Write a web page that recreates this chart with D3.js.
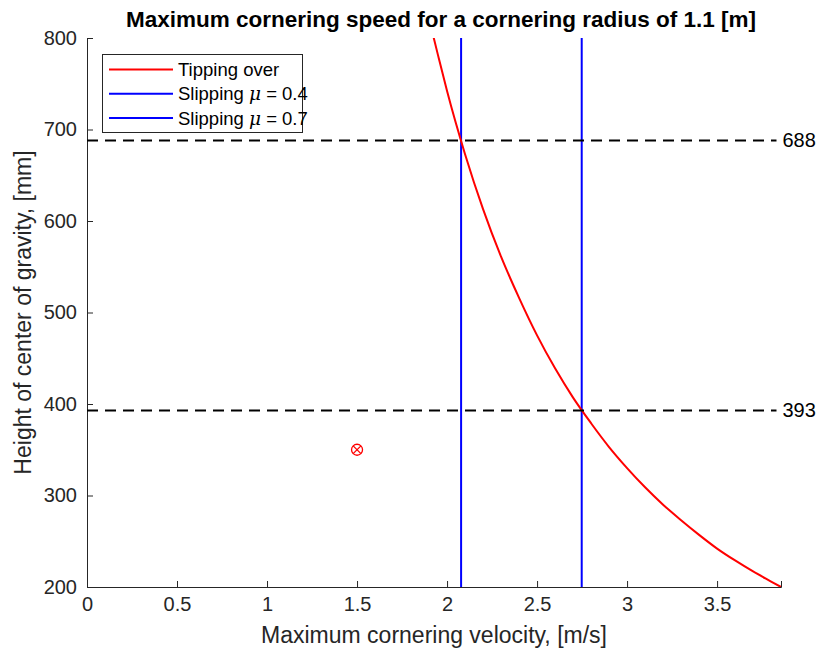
<!DOCTYPE html>
<html>
<head>
<meta charset="utf-8">
<script src="https://cdn.jsdelivr.net/npm/d3@7"></script>
<style>
  body { margin: 0; background: #fff; }
  text { font-family: "Liberation Sans", Arial, sans-serif; }
</style>
</head>
<body>
<script>
// points: velocity [m/s] -> height [mm]
var tipV = [1.92, 1.95, 2.0, 2.1, 2.2, 2.3, 2.4, 2.5, 2.6, 2.7, 2.8, 2.9, 3.0, 3.1, 3.2, 3.3, 3.4, 3.5, 3.6, 3.7, 3.8, 3.855];
var tipH = [805, 781, 742, 673, 613, 561, 516, 475, 439, 407, 379, 353, 330, 309, 290, 273, 257, 242, 229, 217, 206, 200];
var slipMu = [0.4, 0.7];
var slipV = [2.078, 2.748];
var limitH = [688, 393];
var pointV = [1.5];
var pointH = [350];
var xTicks = [0, 0.5, 1, 1.5, 2, 2.5, 3, 3.5];
var yTicks = [200, 300, 400, 500, 600, 700, 800];

var W = 819, H = 651;
var m = {left: 87, right: 38, top: 38, bottom: 64};

var svg = d3.select('body').append('svg')
  .attr('width', W).attr('height', H);

var x = d3.scaleLinear().domain([0, 3.855]).range([m.left, W - m.right]);
var y = d3.scaleLinear().domain([200, 800]).range([H - m.bottom, m.top]);

var clip = svg.append('clipPath').attr('id', 'clip')
  .append('rect')
  .attr('x', m.left).attr('y', m.top)
  .attr('width', x.range()[1] - m.left).attr('height', y.range()[0] - m.top);

// axes (MATLAB style, ticks inside, box off)
var xAxis = svg.append('g')
  .attr('transform', 'translate(0,' + y(200) + ')')
  .call(d3.axisBottom(x).tickValues(xTicks).tickSize(-6).tickPadding(10)
    .tickFormat(function(d) { return d3.format('~g')(d); }));
var yAxis = svg.append('g')
  .attr('transform', 'translate(' + m.left + ',0)')
  .call(d3.axisLeft(y).tickValues(yTicks).tickSize(-6).tickPadding(10));

[xAxis, yAxis].forEach(function(a) {
  a.select('.domain').attr('stroke', '#262626');
  a.selectAll('.tick line').attr('stroke', '#262626');
  a.selectAll('.tick text').attr('fill', '#262626').style('font-size', '20px')
    .style('font-family', '"Liberation Sans", Arial, sans-serif');
});

var plot = svg.append('g').attr('clip-path', 'url(#clip)');

// slipping limits
plot.selectAll('.slip').data(slipV).enter().append('line')
  .attr('x1', function(d) { return x(d); }).attr('x2', function(d) { return x(d); })
  .attr('y1', y(800)).attr('y2', y(200))
  .attr('stroke', '#0000ff').attr('stroke-width', 2);

// tipping curve
var line = d3.line()
  .x(function(d, i) { return x(tipV[i]); })
  .y(function(d) { return y(d); })
  .curve(d3.curveMonotoneX);
plot.append('path').datum(tipH)
  .attr('d', line)
  .attr('fill', 'none').attr('stroke', '#ff0000').attr('stroke-width', 2);

// horizontal dashed height limits
svg.selectAll('.lim').data(limitH).enter().append('line')
  .attr('x1', x(0)).attr('x2', x(3.83))
  .attr('y1', function(d) { return y(d); }).attr('y2', function(d) { return y(d); })
  .attr('stroke', '#000').attr('stroke-width', 2).attr('stroke-dasharray', '11,7');
svg.selectAll('.limText').data(limitH).enter().append('text')
  .attr('x', x(3.83) + 6).attr('y', function(d) { return y(d); })
  .attr('dy', '0.35em')
  .style('font-size', '20px').attr('fill', '#000')
  .text(function(d) { return d; });

// operating point marker (circle with cross)
var pt = svg.selectAll('.pt').data(pointV).enter().append('g')
  .attr('transform', function(d, i) { return 'translate(' + x(d) + ',' + y(pointH[i]) + ')'; })
  .attr('stroke', '#ff0000').attr('stroke-width', 1.3).attr('fill', 'none');
pt.append('circle').attr('r', 5.5);
pt.append('line').attr('x1', -3.9).attr('y1', -3.9).attr('x2', 3.9).attr('y2', 3.9);
pt.append('line').attr('x1', -3.9).attr('y1', 3.9).attr('x2', 3.9).attr('y2', -3.9);

// title and labels
svg.append('text')
  .attr('x', 441).attr('y', 27).attr('text-anchor', 'middle')
  .style('font-size', '22.5px').style('font-weight', 'bold').attr('fill', '#000')
  .text('Maximum cornering speed for a cornering radius of 1.1 [m]');
svg.append('text')
  .attr('x', 434).attr('y', 643).attr('text-anchor', 'middle')
  .style('font-size', '23px').attr('fill', '#262626')
  .text('Maximum cornering velocity, [m/s]');
svg.append('text')
  .attr('transform', 'translate(31,' + y(500) + ') rotate(-90)')
  .attr('text-anchor', 'middle')
  .style('font-size', '23px').attr('fill', '#262626')
  .text('Height of center of gravity, [mm]');

// legend
var legendItems = [
  {color: '#ff0000', label: 'Tipping over', mu: null},
  {color: '#0000ff', label: 'Slipping ', mu: slipMu[0]},
  {color: '#0000ff', label: 'Slipping ', mu: slipMu[1]}
];
var lg = svg.append('g');
lg.append('rect')
  .attr('x', 102.5).attr('y', 54.5).attr('width', 200).attr('height', 78)
  .attr('fill', '#fff').attr('stroke', '#262626').attr('stroke-width', 1);
var row = lg.selectAll('.row').data(legendItems).enter().append('g')
  .attr('transform', function(d, i) { return 'translate(0,' + (69.5 + i * 24.3) + ')'; });
row.append('line').attr('x1', 109).attr('x2', 173)
  .attr('stroke', function(d) { return d.color; }).attr('stroke-width', 2);
var t = row.append('text').attr('x', 178).attr('dy', '0.35em')
  .style('font-size', '18.5px').attr('fill', '#000');
t.append('tspan').text(function(d) { return d.label; });
t.filter(function(d) { return d.mu !== null; }).append('tspan')
  .style('font-family', '"DejaVu Serif", serif').style('font-style', 'italic')
  .text('\u03bc');
t.filter(function(d) { return d.mu !== null; }).append('tspan')
  .text(function(d) { return ' = ' + d.mu; });
</script>
</body>
</html>
